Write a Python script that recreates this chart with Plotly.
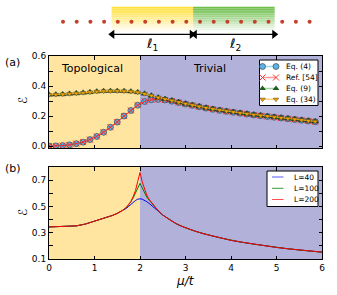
import plotly.graph_objects as go

# ---------------- data ----------------
# panel (a)
mu_a = [0.0, 0.15, 0.3, 0.45, 0.6, 0.75, 0.9, 1.05, 1.2, 1.35, 1.5, 1.65, 1.8, 1.95,
        2.1, 2.25, 2.4, 2.55, 2.7, 2.85, 3.0, 3.15, 3.3, 3.45, 3.6, 3.75, 3.9, 4.05,
        4.2, 4.35, 4.5, 4.65, 4.8, 4.95, 5.1, 5.25, 5.4, 5.55, 5.7, 5.85]
eq4 = [0.0, 0.001, 0.003, 0.008, 0.016, 0.026, 0.043, 0.064, 0.092, 0.125, 0.16, 0.2,
       0.237, 0.272, 0.297, 0.309, 0.311, 0.307, 0.299, 0.29, 0.28, 0.271, 0.262, 0.253,
       0.245, 0.238, 0.231, 0.225, 0.219, 0.213, 0.207, 0.202, 0.197, 0.192, 0.187,
       0.182, 0.177, 0.172, 0.167, 0.162]
ref54 = [0.0, 0.001, 0.003, 0.008, 0.016, 0.026, 0.043, 0.064, 0.092, 0.125, 0.16, 0.2,
         0.237, 0.272, 0.297, 0.309, 0.311, 0.307, 0.299, 0.29, 0.28, 0.271, 0.262, 0.253,
         0.245, 0.238, 0.231, 0.225, 0.219, 0.213, 0.207, 0.202, 0.197, 0.192, 0.187,
         0.182, 0.177, 0.172, 0.167, 0.162]
eq9 = [0.342, 0.343, 0.345, 0.348, 0.351, 0.355, 0.359, 0.363, 0.366, 0.367, 0.367, 0.366,
       0.363, 0.358, 0.349, 0.336, 0.324, 0.313, 0.303, 0.292, 0.282, 0.273, 0.264, 0.255,
       0.247, 0.24, 0.233, 0.227, 0.221, 0.215, 0.209, 0.204, 0.199, 0.194, 0.189, 0.184,
       0.179, 0.174, 0.169, 0.164]
eq34 = [0.342, 0.343, 0.345, 0.348, 0.351, 0.355, 0.359, 0.363, 0.366, 0.367, 0.367, 0.366,
        0.363, 0.358, 0.349, 0.336, 0.324, 0.313, 0.303, 0.292, 0.282, 0.273, 0.264, 0.255,
        0.247, 0.24, 0.233, 0.227, 0.221, 0.215, 0.209, 0.204, 0.199, 0.194, 0.189, 0.184,
        0.179, 0.174, 0.169, 0.164]

# panel (b)
mu_b = [0.0, 0.2, 0.4, 0.6, 0.8, 1.0, 1.2, 1.4, 1.5, 1.6, 1.7, 1.75, 1.8, 1.85, 1.9, 1.95,
        2.0, 2.05, 2.1, 2.15, 2.2, 2.25, 2.3, 2.4, 2.5, 2.6, 2.7, 2.8, 2.9, 3.0, 3.2, 3.4,
        3.6, 3.8, 4.0, 4.25, 4.5, 4.75, 5.0, 5.25, 5.5, 5.75, 6.0]
L40 = [0.344, 0.345, 0.347, 0.352, 0.366, 0.386, 0.408, 0.432, 0.447, 0.463, 0.485, 0.5,
       0.516, 0.532, 0.545, 0.555, 0.558, 0.555, 0.547, 0.536, 0.523, 0.51, 0.497, 0.465,
       0.434, 0.41, 0.388, 0.368, 0.351, 0.337, 0.313, 0.292, 0.274, 0.258, 0.242, 0.227,
       0.213, 0.2, 0.188, 0.178, 0.168, 0.16, 0.152]
L100 = [0.344, 0.345, 0.347, 0.352, 0.366, 0.386, 0.408, 0.432, 0.447, 0.466, 0.492, 0.512,
        0.535, 0.565, 0.6, 0.645, 0.676, 0.64, 0.6, 0.57, 0.548, 0.527, 0.508, 0.468,
        0.435, 0.41, 0.388, 0.368, 0.351, 0.337, 0.313, 0.292, 0.274, 0.258, 0.242, 0.227,
        0.213, 0.2, 0.188, 0.178, 0.168, 0.16, 0.152]
L200 = [0.344, 0.345, 0.347, 0.352, 0.366, 0.386, 0.408, 0.432, 0.447, 0.466, 0.492, 0.513,
        0.538, 0.575, 0.62, 0.69, 0.758, 0.685, 0.625, 0.585, 0.555, 0.53, 0.51, 0.468,
        0.435, 0.41, 0.388, 0.368, 0.351, 0.337, 0.313, 0.292, 0.274, 0.258, 0.242, 0.227,
        0.213, 0.2, 0.188, 0.178, 0.168, 0.16, 0.152]

# schematic chain
sites = list(range(19))
block1 = [3.55, 9.5]
block2 = [9.5, 15.45]

ya_major = [0.0, 0.2, 0.4, 0.6]
ya_minor = [0.1, 0.3, 0.5]
yb_major = [0.1, 0.3, 0.5, 0.7]
yb_minor = [0.2, 0.4, 0.6, 0.8]
x_ticks = [0, 1, 2, 3, 4, 5, 6]

W, H = 337, 295
FONT = "DejaVu Sans"
YEL = "#FFE5A0"
LAV = "#B1B1D9"

fig = go.Figure()

# ---- panel (a) traces ----
fig.add_trace(go.Scatter(x=mu_a, y=eq4, mode="lines+markers", xaxis="x", yaxis="y",
                         line=dict(color="#7cc6ee", width=1),
                         marker=dict(symbol="circle", size=6, color="#5bb2e3",
                                     line=dict(color="#333", width=0.6)),
                         showlegend=False))
fig.add_trace(go.Scatter(x=mu_a, y=ref54, mode="lines+markers", xaxis="x", yaxis="y",
                         line=dict(color="rgba(255,30,30,0.85)", width=1),
                         marker=dict(symbol="x-thin", size=6,
                                     line=dict(color="rgba(255,40,40,0.9)", width=1)),
                         showlegend=False))
fig.add_trace(go.Scatter(x=mu_a, y=eq9, mode="lines+markers", xaxis="x", yaxis="y",
                         line=dict(color="#7fbf7f", width=1),
                         marker=dict(symbol="triangle-up", size=6, color="#1f5f1f",
                                     line=dict(color="#111", width=0.4)),
                         showlegend=False))
fig.add_trace(go.Scatter(x=mu_a, y=eq34, mode="lines+markers", xaxis="x", yaxis="y",
                         line=dict(color="#f2a900", width=1),
                         marker=dict(symbol="triangle-down", size=5, color="#f0a000",
                                     line=dict(color="#333", width=0.4)),
                         showlegend=False))

# ---- panel (b) traces ----
for ys, col in [(L40, "#0000ff"), (L100, "#008000"), (L200, "#ff0000")]:
    fig.add_trace(go.Scatter(x=mu_b, y=ys, mode="lines", xaxis="x2", yaxis="y2",
                             line=dict(color=col, width=1), showlegend=False))

# ---- schematic ----
grad_n = 14
y_top, y_bot = 0.69, -0.46
shapes = []


def grad_rect(x0, x1, c_top):
    out = []
    for i in range(grad_n):
        t = i / (grad_n - 1)
        r = int(c_top[0] + (255 - c_top[0]) * t * 0.95)
        g = int(c_top[1] + (255 - c_top[1]) * t * 0.95)
        b = int(c_top[2] + (255 - c_top[2]) * t * 0.95)
        ya = y_top + (y_bot - y_top) * i / grad_n
        yb = y_top + (y_bot - y_top) * (i + 1) / grad_n
        out.append(dict(type="rect", xref="x3", yref="y3", x0=x0, x1=x1, y0=yb, y1=ya,
                        fillcolor=f"rgb({r},{g},{b})", line=dict(width=0), layer="below"))
    return out


shapes += grad_rect(block1[0], block1[1], (255, 224, 60))
shapes += grad_rect(block2[0], block2[1], (110, 190, 75))

fig.add_trace(go.Scatter(x=sites, y=[0] * len(sites), mode="markers", xaxis="x3", yaxis="y3",
                         marker=dict(size=4, color="#c4402c"), showlegend=False))

# double-headed arrows under the blocks
for blk, gap in [(block1, (0.05, -0.1)), (block2, (0.12, -0.03))]:
    fig.add_trace(go.Scatter(x=[blk[0] + gap[0], blk[1] + gap[1]], y=[-0.58, -0.58],
                             mode="lines+markers", xaxis="x3", yaxis="y3",
                             line=dict(color="black", width=1.3),
                             marker=dict(symbol=["triangle-left", "triangle-right"], size=8,
                                         color="black"),
                             showlegend=False, hoverinfo="skip"))

# ---- background regions ----
for xa, ya in [("x", "y"), ("x2", "y2")]:
    shapes.append(dict(type="rect", xref=xa, yref=ya + " domain", x0=0, x1=2, y0=0, y1=1,
                       fillcolor=YEL, line=dict(width=0), layer="below"))
    shapes.append(dict(type="rect", xref=xa, yref=ya + " domain", x0=2, x1=6, y0=0, y1=1,
                       fillcolor=LAV, line=dict(width=0), layer="below"))

# ---- manual legends on a pixel overlay axis ----
def box(x0, y0, x1, y1):
    fig.add_trace(go.Scatter(x=[x0, x1, x1, x0, x0], y=[y0, y0, y1, y1, y0], mode="lines",
                             fill="toself", fillcolor="white", line=dict(color="black", width=1),
                             xaxis="x4", yaxis="y4", showlegend=False, hoverinfo="skip"))


def label(text, x, y, size, angle=0, xanchor="center"):
    return dict(text=text, x=x, y=y, xref="x4", yref="y4", showarrow=False,
                xanchor=xanchor, yanchor="middle", textangle=angle,
                font=dict(size=size, color="black", family=FONT))


annotations = []
box(259.5, 60, 318, 105.5)
leg_a = [
    ("Eq. (4)", dict(symbol="circle", size=6, color="#5bb2e3", line=dict(color="#333", width=0.6)), "#9fd6f2"),
    ("Ref. [54]", dict(symbol="x-thin", size=6, line=dict(color="#ff3030", width=1)), "#ff9a9a"),
    ("Eq. (9)", dict(symbol="triangle-up", size=6, color="#1f5f1f"), "#9fcf9f"),
    ("Eq. (34)", dict(symbol="triangle-down", size=5, color="#f0a000", line=dict(color="#333", width=0.4)), "#f8cf7a"),
]
rows_a = [66.5, 77.5, 88.5, 99.3]
for (lab, mk, lc), yy in zip(leg_a, rows_a):
    fig.add_trace(go.Scatter(x=[262.5, 276], y=[yy, yy], mode="lines+markers", marker=mk,
                             line=dict(color=lc, width=1.5), xaxis="x4", yaxis="y4",
                             showlegend=False, hoverinfo="skip"))
    annotations.append(label(lab, 283.5, yy, 7.5, xanchor="left"))

box(267, 171, 318, 206.5)
leg_b = [("L=40", "#5a5aff"), ("L=100", "#3a9a3a"), ("L=200", "#ff5050")]
rows_b = [177, 188.3, 199.5]
for (lab, lc), yy in zip(leg_b, rows_b):
    fig.add_trace(go.Scatter(x=[272, 283.5], y=[yy, yy], mode="lines",
                             line=dict(color=lc, width=1), xaxis="x4", yaxis="y4",
                             showlegend=False, hoverinfo="skip"))
    annotations.append(label(lab, 291.5, yy, 7.5, xanchor="left"))

# ---- texts ----
annotations += [
    dict(text="Topological", x=0.945, y=0.52, xref="x", yref="y", showarrow=False,
         font=dict(size=11, color="black", family=FONT)),
    dict(text="Trivial", x=3.53, y=0.52, xref="x", yref="y", showarrow=False,
         font=dict(size=11, color="black", family=FONT)),
    label("(a)", 12.5, 62.5, 11),
    label("(b)", 12.5, 168, 11),
    label("ℰ", 23, 101, 12, angle=-90),
    label("ℰ", 23, 213, 12, angle=-90),
    label("<i>μ/t</i>", 185, 281, 12),
    dict(text="ℓ<sub>1</sub>", x=6.5, y=-1.07, xref="x3", yref="y3", showarrow=False,
         font=dict(size=13, color="black", family=FONT)),
    dict(text="ℓ<sub>2</sub>", x=12.55, y=-1.07, xref="x3", yref="y3", showarrow=False,
         font=dict(size=13, color="black", family=FONT)),
]

xdom = [49 / W, 322 / W]
common_ax = dict(showline=True, linecolor="black", linewidth=1, mirror="ticks",
                 ticks="inside", ticklen=3.5, tickwidth=0.8, tickcolor="black",
                 showgrid=False, zeroline=False, automargin=False,
                 tickfont=dict(size=9, color="black", family=FONT))
minor_a = dict(tickvals=ya_minor, ticks="inside", ticklen=3.5, tickwidth=0.8,
               tickcolor="black", showgrid=False)
minor_b = dict(tickvals=yb_minor, ticks="inside", ticklen=3.5, tickwidth=0.8,
               tickcolor="black", showgrid=False)

fig.update_layout(
    width=W, height=H, margin=dict(l=0, r=0, t=0, b=0, autoexpand=False),
    paper_bgcolor="white", plot_bgcolor="rgba(0,0,0,0)",
    font=dict(family=FONT, color="black"),
    xaxis=dict(domain=xdom, range=[0, 6], tickvals=x_ticks, showticklabels=False,
               anchor="y", **common_ax),
    yaxis=dict(domain=[1 - 148 / H, 1 - 56 / H], range=[-0.013, 0.6], tickvals=ya_major,
               tickformat=".1f", minor=minor_a, anchor="x", **common_ax),
    xaxis2=dict(domain=xdom, range=[0, 6], tickvals=x_ticks, anchor="y2", **common_ax),
    yaxis2=dict(domain=[1 - 259 / H, 1 - 167 / H], range=[0.1, 0.8], tickvals=yb_major,
                tickformat=".1f", minor=minor_b, anchor="x2", **common_ax),
    xaxis3=dict(domain=[0, 1], range=[-63 / 13.7, (W - 63) / 13.7], visible=False,
                anchor="y3", automargin=False),
    yaxis3=dict(domain=[1 - 52.1 / H, 1], range=[-1.4, 1], visible=False, anchor="x3",
                automargin=False),
    xaxis4=dict(domain=[0, 1], range=[0, W], visible=False, anchor="y4", automargin=False),
    yaxis4=dict(domain=[0, 1], range=[H, 0], visible=False, anchor="x4", automargin=False),
    shapes=shapes,
    annotations=annotations,
    showlegend=False,
)

fig.write_html("out.html", config={"displayModeBar": False},
               post_script="document.body.style.margin='0px';document.body.style.padding='0px';"
                           "document.body.style.overflow='hidden';")
